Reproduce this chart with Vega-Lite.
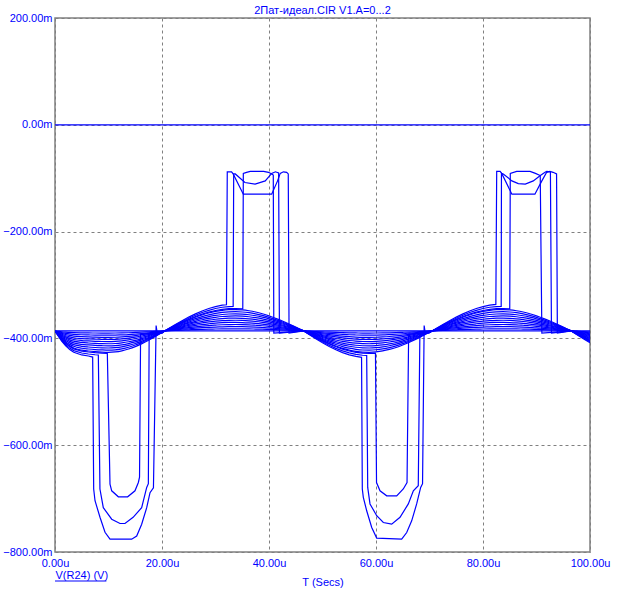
{
"$schema": "https://vega.github.io/schema/vega-lite/v6.json",
"width": 535, "height": 534, "autosize": "none",
"padding": {"left": 55, "top": 18, "right": 27, "bottom": 52},
"background": "white",
"title": {"text": "2Пат-идеал.CIR V1.A=0...2", "fontSize": 11, "fontWeight": "normal", "color": "#0000ff", "font": "Liberation Sans", "offset": -4, "anchor": "middle"},
"datasets": {
"fan": [
{"t":0,"f4":-386,"f8":-386,"f12":-386,"f16":-386,"f20":-386,"f24":-386,"f28":-386,"f32":-386,"f36":-386,"f40":-386},
{"t":0.5,"f4":-386.6,"f8":-387.3,"f12":-387.9,"f16":-388.6,"f20":-389.2,"f24":-389.8,"f28":-390.5,"f32":-391.1,"f36":-391.8,"f40":-392.4},
{"t":1.25,"f4":-387.5,"f8":-389,"f12":-390.6,"f16":-392.1,"f20":-393.6,"f24":-395.1,"f28":-396.6,"f32":-398.2,"f36":-399.7,"f40":-401.2},
{"t":2,"f4":-388.2,"f8":-390.5,"f12":-392.7,"f16":-395,"f20":-397.2,"f24":-399.4,"f28":-401.7,"f32":-403.9,"f36":-406.2,"f40":-408.4},
{"t":2.75,"f4":-388.8,"f8":-391.6,"f12":-394.4,"f16":-397.2,"f20":-400,"f24":-402.8,"f28":-405.6,"f32":-408.4,"f36":-411.2,"f40":-414},
{"t":3.5,"f4":-389.2,"f8":-392.4,"f12":-395.6,"f16":-398.8,"f20":-402,"f24":-405.2,"f28":-408.4,"f32":-411.6,"f36":-414.8,"f40":-418},
{"t":5,"f4":-389.6,"f8":-393.2,"f12":-396.8,"f16":-400.4,"f20":-404,"f24":-407.6,"f28":-411.2,"f32":-414.8,"f36":-418.4,"f40":-422},
{"t":6.25,"f4":-389.8,"f8":-393.5,"f12":-397.3,"f16":-401,"f20":-404.8,"f24":-408.6,"f28":-412.3,"f32":-416.1,"f36":-419.8,"f40":-423.6},
{"t":7.5,"f4":-389.9,"f8":-393.8,"f12":-397.6,"f16":-401.5,"f20":-405.4,"f24":-409.3,"f28":-413.2,"f32":-417,"f36":-420.9,"f40":-424.8},
{"t":8.75,"f4":-390,"f8":-393.9,"f12":-397.9,"f16":-401.8,"f20":-405.8,"f24":-409.8,"f28":-413.7,"f32":-417.7,"f36":-421.6,"f40":-425.6},
{"t":10,"f4":-390,"f8":-394,"f12":-398,"f16":-402,"f20":-406,"f24":-410,"f28":-414,"f32":-418,"f36":-422,"f40":-426},
{"t":11.25,"f4":-389.9,"f8":-393.9,"f12":-397.8,"f16":-401.7,"f20":-405.6,"f24":-409.6,"f28":-413.5,"f32":-417.4,"f36":-421.4,"f40":-425.3},
{"t":12.5,"f4":-389.7,"f8":-393.4,"f12":-397.2,"f16":-400.9,"f20":-404.6,"f24":-408.3,"f28":-412,"f32":-415.8,"f36":-419.5,"f40":-423.2},
{"t":13.75,"f4":-389.4,"f8":-392.8,"f12":-396.2,"f16":-399.5,"f20":-402.9,"f24":-406.3,"f28":-409.7,"f32":-413.1,"f36":-416.5,"f40":-419.8},
{"t":15,"f4":-388.9,"f8":-391.9,"f12":-394.8,"f16":-397.7,"f20":-400.7,"f24":-403.6,"f28":-406.6,"f32":-409.5,"f36":-412.4,"f40":-415.4},
{"t":16.25,"f4":-388.4,"f8":-390.8,"f12":-393.1,"f16":-395.5,"f20":-397.9,"f24":-400.3,"f28":-402.6,"f32":-405,"f36":-407.4,"f40":-409.8},
{"t":17.5,"f4":-387.7,"f8":-389.5,"f12":-391.2,"f16":-392.9,"f20":-394.7,"f24":-396.4,"f28":-398.2,"f32":-399.9,"f36":-401.6,"f40":-403.4},
{"t":18.75,"f4":-387,"f8":-388.1,"f12":-389.1,"f16":-390.1,"f20":-391.2,"f24":-392.2,"f28":-393.2,"f32":-394.3,"f36":-395.3,"f40":-396.3},
{"t":20,"f4":-386.3,"f8":-386.6,"f12":-386.9,"f16":-387.2,"f20":-387.5,"f24":-387.8,"f28":-388.1,"f32":-388.4,"f36":-388.7,"f40":-389},
{"t":20.5,"f4":-386,"f8":-386,"f12":-386,"f16":-386,"f20":-386,"f24":-386,"f28":-386,"f32":-386,"f36":-386,"f40":-386},
{"t":21.25,"f4":-385.6,"f8":-385.3,"f12":-384.9,"f16":-384.6,"f20":-384.2,"f24":-383.8,"f28":-383.5,"f32":-383.1,"f36":-382.8,"f40":-382.4},
{"t":22.5,"f4":-385,"f8":-384.1,"f12":-383.1,"f16":-382.2,"f20":-381.2,"f24":-380.2,"f28":-379.3,"f32":-378.3,"f36":-377.4,"f40":-376.4},
{"t":23.75,"f4":-384.5,"f8":-382.9,"f12":-381.4,"f16":-379.9,"f20":-378.4,"f24":-376.8,"f28":-375.3,"f32":-373.8,"f36":-372.2,"f40":-370.7},
{"t":25,"f4":-383.9,"f8":-381.9,"f12":-379.8,"f16":-377.7,"f20":-375.6,"f24":-373.6,"f28":-371.5,"f32":-369.4,"f36":-367.4,"f40":-365.3},
{"t":26.25,"f4":-383.4,"f8":-380.9,"f12":-378.3,"f16":-375.8,"f20":-373.2,"f24":-370.6,"f28":-368.1,"f32":-365.5,"f36":-363,"f40":-360.4},
{"t":27.5,"f4":-383,"f8":-380,"f12":-377,"f16":-374,"f20":-371,"f24":-368.1,"f28":-365.1,"f32":-362.1,"f36":-359.1,"f40":-356.1},
{"t":28.75,"f4":-382.6,"f8":-379.3,"f12":-375.9,"f16":-372.6,"f20":-369.2,"f24":-365.8,"f28":-362.5,"f32":-359.1,"f36":-355.8,"f40":-352.4},
{"t":30,"f4":-382.4,"f8":-378.7,"f12":-375.1,"f16":-371.4,"f20":-367.8,"f24":-364.1,"f28":-360.5,"f32":-356.8,"f36":-353.2,"f40":-349.5},
{"t":31.25,"f4":-382.1,"f8":-378.3,"f12":-374.4,"f16":-370.6,"f20":-366.7,"f24":-362.9,"f28":-359,"f32":-355.2,"f36":-351.3,"f40":-347.4},
{"t":32.5,"f4":-382,"f8":-378.1,"f12":-374.1,"f16":-370.1,"f20":-366.2,"f24":-362.2,"f28":-358.2,"f32":-354.3,"f36":-350.3,"f40":-346.3},
{"t":33.75,"f4":-382,"f8":-378,"f12":-374,"f16":-370,"f20":-366,"f24":-362,"f28":-358,"f32":-354,"f36":-350,"f40":-346},
{"t":35,"f4":-382.1,"f8":-378.1,"f12":-374.2,"f16":-370.3,"f20":-366.3,"f24":-362.4,"f28":-358.4,"f32":-354.5,"f36":-350.6,"f40":-346.6},
{"t":36.25,"f4":-382.2,"f8":-378.4,"f12":-374.6,"f16":-370.9,"f20":-367.1,"f24":-363.3,"f28":-359.5,"f32":-355.7,"f36":-351.9,"f40":-348.2},
{"t":37.5,"f4":-382.5,"f8":-378.9,"f12":-375.4,"f16":-371.8,"f20":-368.3,"f24":-364.7,"f28":-361.2,"f32":-357.6,"f36":-354.1,"f40":-350.6},
{"t":38.75,"f4":-382.8,"f8":-379.6,"f12":-376.3,"f16":-373.1,"f20":-369.9,"f24":-366.7,"f28":-363.4,"f32":-360.2,"f36":-357,"f40":-353.8},
{"t":40,"f4":-383.2,"f8":-380.3,"f12":-377.5,"f16":-374.7,"f20":-371.8,"f24":-369,"f28":-366.2,"f32":-363.3,"f36":-360.5,"f40":-357.7},
{"t":41.25,"f4":-383.6,"f8":-381.3,"f12":-378.9,"f16":-376.6,"f20":-374.2,"f24":-371.8,"f28":-369.5,"f32":-367.1,"f36":-364.8,"f40":-362.4},
{"t":42.5,"f4":-384.1,"f8":-382.3,"f12":-380.4,"f16":-378.6,"f20":-376.7,"f24":-374.9,"f28":-373,"f32":-371.2,"f36":-369.3,"f40":-367.4},
{"t":43.75,"f4":-384.7,"f8":-383.4,"f12":-382.1,"f16":-380.8,"f20":-379.5,"f24":-378.2,"f28":-376.9,"f32":-375.6,"f36":-374.3,"f40":-373},
{"t":45,"f4":-385.3,"f8":-384.6,"f12":-383.8,"f16":-383.1,"f20":-382.4,"f24":-381.7,"f28":-381,"f32":-380.2,"f36":-379.5,"f40":-378.8},
{"t":45.75,"f4":-385.6,"f8":-385.3,"f12":-384.9,"f16":-384.6,"f20":-384.2,"f24":-383.8,"f28":-383.5,"f32":-383.1,"f36":-382.8,"f40":-382.4},
{"t":46.5,"f4":-386,"f8":-386,"f12":-386,"f16":-386,"f20":-386,"f24":-386,"f28":-386,"f32":-386,"f36":-386,"f40":-386},
{"t":47.5,"f4":-386.5,"f8":-387,"f12":-387.6,"f16":-388.1,"f20":-388.6,"f24":-389.1,"f28":-389.6,"f32":-390.2,"f36":-390.7,"f40":-391.2},
{"t":48.75,"f4":-387.2,"f8":-388.3,"f12":-389.5,"f16":-390.6,"f20":-391.8,"f24":-393,"f28":-394.1,"f32":-395.3,"f36":-396.4,"f40":-397.6},
{"t":50,"f4":-387.8,"f8":-389.5,"f12":-391.3,"f16":-393.1,"f20":-394.8,"f24":-396.6,"f28":-398.4,"f32":-400.1,"f36":-401.9,"f40":-403.7},
{"t":51.25,"f4":-388.3,"f8":-390.7,"f12":-393,"f16":-395.3,"f20":-397.6,"f24":-400,"f28":-402.3,"f32":-404.6,"f36":-407,"f40":-409.3},
{"t":52.5,"f4":-388.8,"f8":-391.7,"f12":-394.5,"f16":-397.3,"f20":-400.2,"f24":-403,"f28":-405.8,"f32":-408.7,"f36":-411.5,"f40":-414.3},
{"t":53.75,"f4":-389.3,"f8":-392.5,"f12":-395.8,"f16":-399,"f20":-402.3,"f24":-405.5,"f28":-408.8,"f32":-412,"f36":-415.3,"f40":-418.6},
{"t":55,"f4":-389.6,"f8":-393.2,"f12":-396.8,"f16":-400.3,"f20":-403.9,"f24":-407.5,"f28":-411.1,"f32":-414.7,"f36":-418.3,"f40":-421.8},
{"t":56.25,"f4":-389.8,"f8":-393.6,"f12":-397.5,"f16":-401.3,"f20":-405.1,"f24":-408.9,"f28":-412.8,"f32":-416.6,"f36":-420.4,"f40":-424.2},
{"t":57.5,"f4":-390,"f8":-393.9,"f12":-397.9,"f16":-401.9,"f20":-405.8,"f24":-409.8,"f28":-413.8,"f32":-417.7,"f36":-421.7,"f40":-425.7},
{"t":58.75,"f4":-390,"f8":-394,"f12":-398,"f16":-402,"f20":-406,"f24":-410,"f28":-414,"f32":-418,"f36":-422,"f40":-426},
{"t":60,"f4":-389.9,"f8":-393.8,"f12":-397.8,"f16":-401.7,"f20":-405.6,"f24":-409.5,"f28":-413.4,"f32":-417.4,"f36":-421.3,"f40":-425.2},
{"t":61.25,"f4":-389.7,"f8":-393.5,"f12":-397.2,"f16":-401,"f20":-404.7,"f24":-408.5,"f28":-412.2,"f32":-416,"f36":-419.7,"f40":-423.4},
{"t":62.5,"f4":-389.5,"f8":-392.9,"f12":-396.4,"f16":-399.9,"f20":-403.3,"f24":-406.8,"f28":-410.2,"f32":-413.7,"f36":-417.2,"f40":-420.6},
{"t":63.75,"f4":-389.1,"f8":-392.2,"f12":-395.3,"f16":-398.4,"f20":-401.5,"f24":-404.6,"f28":-407.7,"f32":-410.8,"f36":-413.9,"f40":-417},
{"t":65,"f4":-388.6,"f8":-391.3,"f12":-393.9,"f16":-396.6,"f20":-399.2,"f24":-401.8,"f28":-404.5,"f32":-407.1,"f36":-409.8,"f40":-412.4},
{"t":66.25,"f4":-388.1,"f8":-390.2,"f12":-392.3,"f16":-394.4,"f20":-396.6,"f24":-398.7,"f28":-400.8,"f32":-402.9,"f36":-405,"f40":-407.1},
{"t":67.5,"f4":-387.5,"f8":-389.1,"f12":-390.6,"f16":-392.1,"f20":-393.6,"f24":-395.2,"f28":-396.7,"f32":-398.2,"f36":-399.8,"f40":-401.3},
{"t":68.75,"f4":-386.9,"f8":-387.8,"f12":-388.7,"f16":-389.6,"f20":-390.5,"f24":-391.4,"f28":-392.3,"f32":-393.2,"f36":-394.1,"f40":-395},
{"t":70,"f4":-386.3,"f8":-386.5,"f12":-386.8,"f16":-387.1,"f20":-387.3,"f24":-387.6,"f28":-387.8,"f32":-388.1,"f36":-388.4,"f40":-388.6},
{"t":70.5,"f4":-386,"f8":-386,"f12":-386,"f16":-386,"f20":-386,"f24":-386,"f28":-386,"f32":-386,"f36":-386,"f40":-386},
{"t":71.25,"f4":-385.6,"f8":-385.3,"f12":-384.9,"f16":-384.6,"f20":-384.2,"f24":-383.8,"f28":-383.5,"f32":-383.1,"f36":-382.8,"f40":-382.4},
{"t":72.5,"f4":-385,"f8":-384.1,"f12":-383.1,"f16":-382.2,"f20":-381.2,"f24":-380.2,"f28":-379.3,"f32":-378.3,"f36":-377.4,"f40":-376.4},
{"t":73.75,"f4":-384.5,"f8":-382.9,"f12":-381.4,"f16":-379.9,"f20":-378.4,"f24":-376.8,"f28":-375.3,"f32":-373.8,"f36":-372.2,"f40":-370.7},
{"t":75,"f4":-383.9,"f8":-381.9,"f12":-379.8,"f16":-377.7,"f20":-375.6,"f24":-373.6,"f28":-371.5,"f32":-369.4,"f36":-367.4,"f40":-365.3},
{"t":76.25,"f4":-383.4,"f8":-380.9,"f12":-378.3,"f16":-375.8,"f20":-373.2,"f24":-370.6,"f28":-368.1,"f32":-365.5,"f36":-363,"f40":-360.4},
{"t":77.5,"f4":-383,"f8":-380,"f12":-377,"f16":-374,"f20":-371,"f24":-368.1,"f28":-365.1,"f32":-362.1,"f36":-359.1,"f40":-356.1},
{"t":78.75,"f4":-382.6,"f8":-379.3,"f12":-375.9,"f16":-372.6,"f20":-369.2,"f24":-365.8,"f28":-362.5,"f32":-359.1,"f36":-355.8,"f40":-352.4},
{"t":80,"f4":-382.4,"f8":-378.7,"f12":-375.1,"f16":-371.4,"f20":-367.8,"f24":-364.1,"f28":-360.5,"f32":-356.8,"f36":-353.2,"f40":-349.5},
{"t":81.25,"f4":-382.1,"f8":-378.3,"f12":-374.4,"f16":-370.6,"f20":-366.7,"f24":-362.9,"f28":-359,"f32":-355.2,"f36":-351.3,"f40":-347.4},
{"t":82.5,"f4":-382,"f8":-378.1,"f12":-374.1,"f16":-370.1,"f20":-366.2,"f24":-362.2,"f28":-358.2,"f32":-354.3,"f36":-350.3,"f40":-346.3},
{"t":83.75,"f4":-382,"f8":-378,"f12":-374,"f16":-370,"f20":-366,"f24":-362,"f28":-358,"f32":-354,"f36":-350,"f40":-346},
{"t":85,"f4":-382.1,"f8":-378.1,"f12":-374.2,"f16":-370.3,"f20":-366.3,"f24":-362.4,"f28":-358.4,"f32":-354.5,"f36":-350.6,"f40":-346.6},
{"t":86.25,"f4":-382.2,"f8":-378.4,"f12":-374.6,"f16":-370.9,"f20":-367.1,"f24":-363.3,"f28":-359.5,"f32":-355.7,"f36":-351.9,"f40":-348.2},
{"t":87.5,"f4":-382.5,"f8":-378.9,"f12":-375.4,"f16":-371.8,"f20":-368.3,"f24":-364.7,"f28":-361.2,"f32":-357.6,"f36":-354.1,"f40":-350.6},
{"t":88.75,"f4":-382.8,"f8":-379.6,"f12":-376.3,"f16":-373.1,"f20":-369.9,"f24":-366.7,"f28":-363.4,"f32":-360.2,"f36":-357,"f40":-353.8},
{"t":90,"f4":-383.2,"f8":-380.3,"f12":-377.5,"f16":-374.7,"f20":-371.8,"f24":-369,"f28":-366.2,"f32":-363.3,"f36":-360.5,"f40":-357.7},
{"t":91.25,"f4":-383.6,"f8":-381.3,"f12":-378.9,"f16":-376.6,"f20":-374.2,"f24":-371.8,"f28":-369.5,"f32":-367.1,"f36":-364.8,"f40":-362.4},
{"t":92.5,"f4":-384.1,"f8":-382.3,"f12":-380.4,"f16":-378.6,"f20":-376.7,"f24":-374.9,"f28":-373,"f32":-371.2,"f36":-369.3,"f40":-367.4},
{"t":93.75,"f4":-384.7,"f8":-383.4,"f12":-382.1,"f16":-380.8,"f20":-379.5,"f24":-378.2,"f28":-376.9,"f32":-375.6,"f36":-374.3,"f40":-373},
{"t":95,"f4":-385.3,"f8":-384.6,"f12":-383.8,"f16":-383.1,"f20":-382.4,"f24":-381.7,"f28":-381,"f32":-380.2,"f36":-379.5,"f40":-378.8},
{"t":95.75,"f4":-385.6,"f8":-385.3,"f12":-384.9,"f16":-384.6,"f20":-384.2,"f24":-383.8,"f28":-383.5,"f32":-383.1,"f36":-382.8,"f40":-382.4},
{"t":96.5,"f4":-386,"f8":-386,"f12":-386,"f16":-386,"f20":-386,"f24":-386,"f28":-386,"f32":-386,"f36":-386,"f40":-386},
{"t":97.5,"f4":-386.5,"f8":-387,"f12":-387.6,"f16":-388.1,"f20":-388.6,"f24":-389.1,"f28":-389.6,"f32":-390.2,"f36":-390.7,"f40":-391.2},
{"t":98.75,"f4":-387.2,"f8":-388.3,"f12":-389.5,"f16":-390.6,"f20":-391.8,"f24":-393,"f28":-394.1,"f32":-395.3,"f36":-396.4,"f40":-397.6},
{"t":100,"f4":-387.8,"f8":-389.5,"f12":-391.3,"f16":-393.1,"f20":-394.8,"f24":-396.6,"f28":-398.4,"f32":-400.1,"f36":-401.9,"f40":-403.7}
],
"curves": [
{"c":"zero","t":0,"v":0},{"c":"zero","t":100,"v":0},
{"c":"flat","t":0,"v":-386},{"c":"flat","t":100,"v":-386},
{"c":"p50","t":0,"v":-386},{"c":"p50","t":0.5,"v":-394},{"c":"p50","t":1.25,"v":-405},{"c":"p50","t":2,"v":-414},{"c":"p50","t":2.75,"v":-421},{"c":"p50","t":3.5,"v":-426},{"c":"p50","t":5,"v":-431},{"c":"p50","t":6.25,"v":-433},{"c":"p50","t":7.04,"v":-435},{"c":"p50","t":7.23,"v":-682},{"c":"p50","t":7.48,"v":-704},{"c":"p50","t":8.41,"v":-735},{"c":"p50","t":9.35,"v":-763},{"c":"p50","t":10.28,"v":-776},{"c":"p50","t":14.33,"v":-776},{"c":"p50","t":15.27,"v":-770},{"c":"p50","t":16.2,"v":-748},{"c":"p50","t":17.14,"v":-717},{"c":"p50","t":17.76,"v":-689},{"c":"p50","t":18.4,"v":-680},{"c":"p50","t":18.9,"v":-376},{"c":"p50","t":19.1,"v":-390},{"c":"p50","t":20,"v":-389.7},{"c":"p50","t":20.5,"v":-386},{"c":"p50","t":21.25,"v":-381.5},{"c":"p50","t":22.5,"v":-374},{"c":"p50","t":23.75,"v":-366.9},{"c":"p50","t":25,"v":-360.1},{"c":"p50","t":26.25,"v":-354},{"c":"p50","t":27.5,"v":-348.6},{"c":"p50","t":28.75,"v":-344},{"c":"p50","t":30,"v":-340.4},{"c":"p50","t":31.25,"v":-337.8},{"c":"p50","t":32.05,"v":-337},{"c":"p50","t":32.2,"v":-88},{"c":"p50","t":33,"v":-88},{"c":"p50","t":33.3,"v":-92},{"c":"p50","t":35.2,"v":-130},{"c":"p50","t":40.5,"v":-130},{"c":"p50","t":41.6,"v":-105},{"c":"p50","t":42.1,"v":-91},{"c":"p50","t":42.7,"v":-88},{"c":"p50","t":43.3,"v":-89},{"c":"p50","t":43.6,"v":-92},{"c":"p50","t":43.75,"v":-390},{"c":"p50","t":46.5,"v":-386},{"c":"p50","t":47.5,"v":-392.5},{"c":"p50","t":48.75,"v":-400.5},{"c":"p50","t":50,"v":-408.1},{"c":"p50","t":51.25,"v":-415.1},{"c":"p50","t":52.5,"v":-421.4},{"c":"p50","t":53.75,"v":-426.7},{"c":"p50","t":55,"v":-430.8},{"c":"p50","t":56.25,"v":-433.8},{"c":"p50","t":57.3,"v":-435.4},{"c":"p50","t":57.44,"v":-682},{"c":"p50","t":57.63,"v":-697.6},{"c":"p50","t":58.26,"v":-722.8},{"c":"p50","t":59.2,"v":-754},{"c":"p50","t":60.13,"v":-774},{"c":"p50","t":64.8,"v":-776},{"c":"p50","t":65.74,"v":-763.5},{"c":"p50","t":66.67,"v":-741.6},{"c":"p50","t":67.6,"v":-710},{"c":"p50","t":68.35,"v":-679},{"c":"p50","t":68.7,"v":-672},{"c":"p50","t":69,"v":-376},{"c":"p50","t":69.2,"v":-390},{"c":"p50","t":70,"v":-389.3},{"c":"p50","t":70.5,"v":-386},{"c":"p50","t":71.25,"v":-381.5},{"c":"p50","t":72.5,"v":-374},{"c":"p50","t":73.75,"v":-366.9},{"c":"p50","t":75,"v":-360.1},{"c":"p50","t":76.25,"v":-354},{"c":"p50","t":77.5,"v":-348.6},{"c":"p50","t":78.75,"v":-344},{"c":"p50","t":80,"v":-340.4},{"c":"p50","t":81.25,"v":-337.8},{"c":"p50","t":82.4,"v":-336.4},{"c":"p50","t":82.56,"v":-87.4},{"c":"p50","t":83.2,"v":-87.4},{"c":"p50","t":83.5,"v":-91},{"c":"p50","t":85.4,"v":-130},{"c":"p50","t":89.7,"v":-130},{"c":"p50","t":91,"v":-105},{"c":"p50","t":91.9,"v":-89},{"c":"p50","t":92.5,"v":-87.4},{"c":"p50","t":93.1,"v":-89},{"c":"p50","t":93.75,"v":-92},{"c":"p50","t":93.9,"v":-390},{"c":"p50","t":96.5,"v":-386},{"c":"p50","t":97.5,"v":-392.5},{"c":"p50","t":98.75,"v":-400.5},{"c":"p50","t":100,"v":-408.1},
{"c":"p46","t":0,"v":-386},{"c":"p46","t":0.5,"v":-393.4},{"c":"p46","t":1.25,"v":-403.5},{"c":"p46","t":2,"v":-411.8},{"c":"p46","t":2.75,"v":-418.2},{"c":"p46","t":3.5,"v":-422.8},{"c":"p46","t":5,"v":-427.4},{"c":"p46","t":6.25,"v":-429.2},{"c":"p46","t":7.5,"v":-430.6},{"c":"p46","t":8.1,"v":-431.1},{"c":"p46","t":8.4,"v":-682},{"c":"p46","t":9.03,"v":-717},{"c":"p46","t":10.6,"v":-738.5},{"c":"p46","t":12.15,"v":-746.6},{"c":"p46","t":13.08,"v":-746.6},{"c":"p46","t":14.6,"v":-735},{"c":"p46","t":16.2,"v":-717},{"c":"p46","t":17.14,"v":-679},{"c":"p46","t":17.45,"v":-672},{"c":"p46","t":17.6,"v":-392},{"c":"p46","t":20,"v":-389.7},{"c":"p46","t":20.5,"v":-386},{"c":"p46","t":21.25,"v":-381.9},{"c":"p46","t":22.5,"v":-375},{"c":"p46","t":23.75,"v":-368.4},{"c":"p46","t":25,"v":-362.2},{"c":"p46","t":26.25,"v":-356.6},{"c":"p46","t":27.5,"v":-351.6},{"c":"p46","t":28.75,"v":-347.4},{"c":"p46","t":30,"v":-344},{"c":"p46","t":31.25,"v":-341.7},{"c":"p46","t":32.5,"v":-340.4},{"c":"p46","t":33.3,"v":-340.1},{"c":"p46","t":33.4,"v":-92},{"c":"p46","t":33.7,"v":-92},{"c":"p46","t":35.5,"v":-108},{"c":"p46","t":37.4,"v":-111},{"c":"p46","t":39.3,"v":-105},{"c":"p46","t":40.5,"v":-91},{"c":"p46","t":41.2,"v":-88},{"c":"p46","t":41.8,"v":-90},{"c":"p46","t":41.95,"v":-390},{"c":"p46","t":46.5,"v":-386},{"c":"p46","t":47.5,"v":-392},{"c":"p46","t":48.75,"v":-399.3},{"c":"p46","t":50,"v":-406.3},{"c":"p46","t":51.25,"v":-412.8},{"c":"p46","t":52.5,"v":-418.6},{"c":"p46","t":53.75,"v":-423.4},{"c":"p46","t":55,"v":-427.2},{"c":"p46","t":56.25,"v":-430},{"c":"p46","t":57.5,"v":-431.6},{"c":"p46","t":58.26,"v":-432},{"c":"p46","t":58.45,"v":-679},{"c":"p46","t":58.88,"v":-710},{"c":"p46","t":60.13,"v":-732},{"c":"p46","t":61.37,"v":-744.7},{"c":"p46","t":62.93,"v":-747.8},{"c":"p46","t":64.49,"v":-735},{"c":"p46","t":66.04,"v":-710},{"c":"p46","t":66.98,"v":-685.4},{"c":"p46","t":67.9,"v":-676},{"c":"p46","t":68.2,"v":-392},{"c":"p46","t":70,"v":-389.3},{"c":"p46","t":70.5,"v":-386},{"c":"p46","t":71.25,"v":-381.9},{"c":"p46","t":72.5,"v":-375},{"c":"p46","t":73.75,"v":-368.4},{"c":"p46","t":75,"v":-362.2},{"c":"p46","t":76.25,"v":-356.6},{"c":"p46","t":77.5,"v":-351.6},{"c":"p46","t":78.75,"v":-347.4},{"c":"p46","t":80,"v":-344},{"c":"p46","t":81.25,"v":-341.7},{"c":"p46","t":82.5,"v":-340.4},{"c":"p46","t":83.4,"v":-340},{"c":"p46","t":83.45,"v":-91},{"c":"p46","t":83.8,"v":-92},{"c":"p46","t":85.4,"v":-105},{"c":"p46","t":86.6,"v":-110},{"c":"p46","t":87.9,"v":-111},{"c":"p46","t":89.4,"v":-105},{"c":"p46","t":90.65,"v":-95.5},{"c":"p46","t":91.6,"v":-89},{"c":"p46","t":91.9,"v":-87.4},{"c":"p46","t":92.6,"v":-88},{"c":"p46","t":92.8,"v":-390},{"c":"p46","t":96.5,"v":-386},{"c":"p46","t":97.5,"v":-392},{"c":"p46","t":98.75,"v":-399.3},{"c":"p46","t":100,"v":-406.3},
{"c":"p42","t":0,"v":-386},{"c":"p42","t":0.5,"v":-392.7},{"c":"p42","t":1.25,"v":-402},{"c":"p42","t":2,"v":-409.5},{"c":"p42","t":2.75,"v":-415.4},{"c":"p42","t":3.5,"v":-419.6},{"c":"p42","t":5,"v":-423.8},{"c":"p42","t":6.25,"v":-425.5},{"c":"p42","t":7.5,"v":-426.7},{"c":"p42","t":8.75,"v":-427.6},{"c":"p42","t":9.78,"v":-428},{"c":"p42","t":10.28,"v":-673},{"c":"p42","t":10.6,"v":-685.4},{"c":"p42","t":11.84,"v":-696.6},{"c":"p42","t":13.58,"v":-696.6},{"c":"p42","t":14.95,"v":-685.4},{"c":"p42","t":15.58,"v":-669.8},{"c":"p42","t":15.8,"v":-660},{"c":"p42","t":16,"v":-392},{"c":"p42","t":20,"v":-389.7},{"c":"p42","t":20.5,"v":-386},{"c":"p42","t":21.25,"v":-382.2},{"c":"p42","t":22.5,"v":-375.9},{"c":"p42","t":23.75,"v":-370},{"c":"p42","t":25,"v":-364.2},{"c":"p42","t":26.25,"v":-359.1},{"c":"p42","t":27.5,"v":-354.6},{"c":"p42","t":28.75,"v":-350.7},{"c":"p42","t":30,"v":-347.7},{"c":"p42","t":31.25,"v":-345.5},{"c":"p42","t":32.5,"v":-344.3},{"c":"p42","t":33.75,"v":-344},{"c":"p42","t":35.1,"v":-344.7},{"c":"p42","t":35.2,"v":-91},{"c":"p42","t":35.8,"v":-89},{"c":"p42","t":36.5,"v":-87.4},{"c":"p42","t":39,"v":-87.4},{"c":"p42","t":39.9,"v":-89},{"c":"p42","t":40.5,"v":-92},{"c":"p42","t":40.8,"v":-94},{"c":"p42","t":40.9,"v":-390},{"c":"p42","t":46.5,"v":-386},{"c":"p42","t":47.5,"v":-391.5},{"c":"p42","t":48.75,"v":-398.2},{"c":"p42","t":50,"v":-404.6},{"c":"p42","t":51.25,"v":-410.4},{"c":"p42","t":52.5,"v":-415.7},{"c":"p42","t":53.75,"v":-420.2},{"c":"p42","t":55,"v":-423.6},{"c":"p42","t":56.25,"v":-426.2},{"c":"p42","t":57.5,"v":-427.7},{"c":"p42","t":58.75,"v":-428},{"c":"p42","t":59.9,"v":-427.4},{"c":"p42","t":60.1,"v":-670},{"c":"p42","t":60.75,"v":-685.4},{"c":"p42","t":62,"v":-694.8},{"c":"p42","t":63.87,"v":-694.8},{"c":"p42","t":65.1,"v":-682},{"c":"p42","t":65.8,"v":-670},{"c":"p42","t":66.1,"v":-392},{"c":"p42","t":70,"v":-389.3},{"c":"p42","t":70.5,"v":-386},{"c":"p42","t":71.25,"v":-382.2},{"c":"p42","t":72.5,"v":-375.9},{"c":"p42","t":73.75,"v":-370},{"c":"p42","t":75,"v":-364.2},{"c":"p42","t":76.25,"v":-359.1},{"c":"p42","t":77.5,"v":-354.6},{"c":"p42","t":78.75,"v":-350.7},{"c":"p42","t":80,"v":-347.7},{"c":"p42","t":81.25,"v":-345.5},{"c":"p42","t":82.5,"v":-344.3},{"c":"p42","t":83.75,"v":-344},{"c":"p42","t":85,"v":-344.7},{"c":"p42","t":85.1,"v":-91},{"c":"p42","t":86.3,"v":-87.4},{"c":"p42","t":88.8,"v":-87.4},{"c":"p42","t":89.8,"v":-91},{"c":"p42","t":90.7,"v":-95},{"c":"p42","t":91,"v":-390},{"c":"p42","t":96.5,"v":-386},{"c":"p42","t":97.5,"v":-391.5},{"c":"p42","t":98.75,"v":-398.2},{"c":"p42","t":100,"v":-404.6}
],
"legend": [{"label": "V(R24) (V)", "t": 0, "v": -800, "t2": 9.6}]
},
"encoding": {
"x": {"field": "t", "type": "quantitative", "scale": {"domain": [0, 100], "nice": false, "zero": false},
 "axis": {"title": "T (Secs)", "values": [0, 20, 40, 60, 80, 100], "labelExpr": "format(datum.value, '.2f') + 'u'", "labelPadding": 5, "titlePadding": 8,
  "encode": {"labels": {"update": {"align": {"signal": "datum.value === 0 ? 'left' : 'center'"}, "dx": {"signal": "datum.value === 0 ? 0 : (datum.value === 100 ? -2 : -11)"}}}}}},
"y": {"field": "v", "type": "quantitative", "scale": {"domain": [-800, 200], "nice": false, "zero": false},
 "axis": {"title": "V(R24) (V)", "values": [-800, -600, -400, -200, 0, 200], "labelExpr": "format(datum.value, '.2f') + 'm'", "labelPadding": 3,
  "titleAngle": 0, "titleX": 0, "titleY": 557, "titleAlign": "left", "titleBaseline": "middle"}}
},
"layer": [
{"data": {"name": "fan"}, "transform": [{"fold": ["f4","f8","f12","f16","f20","f24","f28","f32","f36","f40"], "as": ["k", "v"]}],
 "mark": {"type": "line", "color": "#0000ff", "strokeWidth": 1.2, "interpolate": "monotone", "clip": true},
 "encoding": {"detail": {"field": "k"}}},
{"data": {"name": "curves"},
 "mark": {"type": "line", "color": "#0000ff", "strokeWidth": 1.2, "clip": true},
 "encoding": {"detail": {"field": "c"}}},
{"data": {"name": "legend"},
 "mark": {"type": "rule", "color": "#0000ff", "strokeWidth": 1, "yOffset": 29},
 "encoding": {"x2": {"field": "t2"}}}
],
"config": {
"view": {"stroke": "#808080", "strokeWidth": 1.5},
"axis": {"domain": false, "ticks": false, "grid": true, "gridColor": "#808080", "gridDash": [3, 3], "gridWidth": 1,
 "labelColor": "#0000ff", "labelFont": "Liberation Sans", "labelFontSize": 11, "labelFlush": false, "labelOverlap": false,
 "titleColor": "#0000ff", "titleFont": "Liberation Sans", "titleFontSize": 11, "titleFontWeight": "normal"}
}
}
